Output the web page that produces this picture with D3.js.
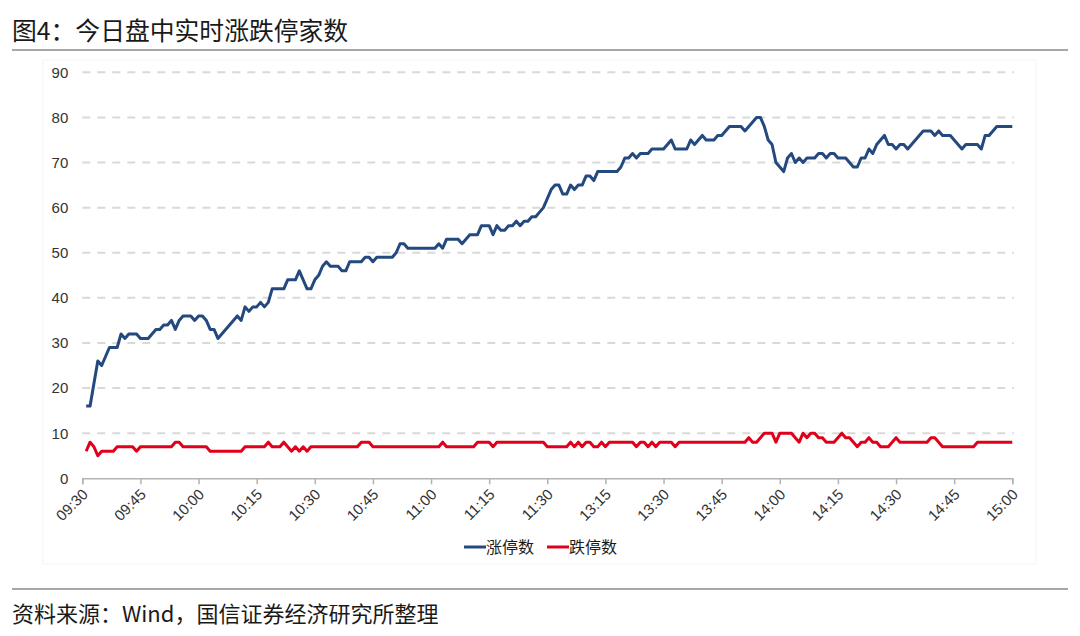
<!DOCTYPE html>
<html>
<head>
<meta charset="utf-8">
<script src="https://cdn.jsdelivr.net/npm/d3@7"></script>
<style>
html,body{margin:0;padding:0;background:#fff;}
svg{display:block;font-family:"Noto Sans CJK SC","Noto Sans",sans-serif;}
</style>
</head>
<body>
<svg id="chart" width="1080" height="636"></svg>
<script>
// ---- data (per-minute values, index 1 = 09:31 ... 120 = 11:30, 121 = 13:01 ... 240 = 15:00) ----
const titleText = "图4：今日盘中实时涨跌停家数";
const sourceText = "资料来源：Wind，国信证券经济研究所整理";
const seriesNames = ["涨停数", "跌停数"];
const tickLabels = ["09:30","09:45","10:00","10:15","10:30","10:45","11:00","11:15","11:30",
                    "13:15","13:30","13:45","14:00","14:15","14:30","14:45","15:00"];
const yTicks = [0,10,20,30,40,50,60,70,80,90];

const limitUp = [
  16,16,21,26,25,27,29,29,29,32,
  31,32,32,32,31,31,31,32,33,33,
  34,34,35,33,35,36,36,36,35,36,
  36,35,33,33,31,32,33,34,35,36,
  35,38,37,38,38,39,38,39,42,42,
  42,42,44,44,44,46,44,42,42,44,
  45,47,48,47,47,47,46,46,48,48,
  48,48,49,49,48,49,49,49,49,49,
  50,52,52,51,51,51,51,51,51,51,
  51,52,51,53,53,53,53,52,53,54,
  54,54,56,56,56,54,56,55,55,56,
  56,57,56,57,57,58,58,59,60,62,
  64,65,65,63,63,65,64,65,65,67,
  67,66,68,68,68,68,68,68,69,71,
  71,72,71,72,72,72,73,73,73,73,
  74,75,73,73,73,73,75,74,75,76,
  75,75,75,76,76,77,78,78,78,78,
  77,78,79,80,80,78,75,74,70,69,
  68,71,72,70,71,70,71,71,71,72,
  72,71,72,72,71,71,71,70,69,69,
  71,71,73,72,74,75,76,74,74,73,
  74,74,73,74,75,76,77,77,77,76,
  77,76,76,76,75,74,73,74,74,74,
  74,73,76,76,77,78,78,78,78,78
];
const limitDown = [
  6,8,7,5,6,6,6,6,7,7,
  7,7,7,6,7,7,7,7,7,7,
  7,7,7,8,8,7,7,7,7,7,
  7,7,6,6,6,6,6,6,6,6,
  6,7,7,7,7,7,7,8,7,7,
  7,8,7,6,7,6,7,6,7,7,
  7,7,7,7,7,7,7,7,7,7,
  7,8,8,8,7,7,7,7,7,7,
  7,7,7,7,7,7,7,7,7,7,
  7,7,8,7,7,7,7,7,7,7,
  7,8,8,8,8,7,8,8,8,8,
  8,8,8,8,8,8,8,8,8,7,
  7,7,7,7,7,8,7,8,7,8,
  8,7,7,8,7,8,8,8,8,8,
  8,8,7,8,8,7,8,7,8,8,
  8,8,7,8,8,8,8,8,8,8,
  8,8,8,8,8,8,8,8,8,8,
  8,9,8,8,9,10,10,10,8,10,
  10,10,10,9,8,10,9,10,10,9,
  9,8,8,8,9,10,9,9,8,7,
  8,8,9,8,8,7,7,7,8,9,
  8,8,8,8,8,8,8,8,9,9,
  8,7,7,7,7,7,7,7,7,7,
  8,8,8,8,8,8,8,8,8,8
];
const colors = ["#24497f", "#e1001b"];

// ---- drawing ----
const svg = d3.select("#chart");
const x = d3.scaleLinear().domain([0, 240]).range([82.3, 1012.3]);
const y = d3.scaleLinear().domain([0, 90]).range([478.3, 72.3]);

// title and rules
svg.append("text").attr("x", 12).attr("y", 40).attr("font-size", 24.8).attr("fill", "#1a1a1a")
  .text(titleText);
svg.append("line").attr("x1", 12).attr("x2", 1068).attr("y1", 50).attr("y2", 50)
  .attr("stroke", "#8a8a8a").attr("stroke-width", 1.6);
svg.append("line").attr("x1", 12).attr("x2", 1068).attr("y1", 589).attr("y2", 589)
  .attr("stroke", "#8a8a8a").attr("stroke-width", 1.6);
svg.append("text").attr("x", 12).attr("y", 622).attr("font-size", 22).attr("fill", "#1a1a1a")
  .text(sourceText);

// faint plot frame
svg.append("rect").attr("x", 43).attr("y", 60).attr("width", 993).attr("height", 504)
  .attr("fill", "none").attr("stroke", "#f4f4f4").attr("stroke-width", 1);

// gridlines
svg.append("g").selectAll("line").data(yTicks.filter(d => d > 0)).join("line")
  .attr("x1", x(0)).attr("x2", 1014).attr("y1", d => y(d)).attr("y2", d => y(d))
  .attr("stroke", "#d9d9d9").attr("stroke-width", 2).attr("stroke-dasharray", "8,7");

// y axis labels
const yAxis = d3.axisLeft(y).tickValues(yTicks).tickSize(0).tickPadding(14);
const gy = svg.append("g").attr("transform", `translate(${x(0)},0)`).call(yAxis);
gy.select(".domain").remove();
gy.selectAll("text").attr("font-size", 15).attr("fill", "#333").attr("font-family", "Liberation Sans, Arial, sans-serif");

// x axis
const tickIdx = tickLabels.map((d, i) => i * 15);
const xAxis = d3.axisBottom(x).tickValues(tickIdx).tickSize(6).tickFormat((d, i) => tickLabels[i]);
const gx = svg.append("g").attr("transform", `translate(0,${y(0)})`).call(xAxis);
gx.select(".domain").attr("stroke", "#b3b3b3").attr("stroke-width", 1.5);
gx.selectAll(".tick line").attr("stroke", "#b3b3b3").attr("stroke-width", 1.5);
gx.selectAll("text").attr("font-size", 15).attr("fill", "#333")
  .attr("font-family", "Liberation Sans, Arial, sans-serif")
  .attr("text-anchor", "end").attr("dy", null)
  .attr("transform", "translate(6,17) rotate(-45)")
  .attr("y", 0).attr("x", 0);

// lines
const series = [limitUp, limitDown];
const line = d3.line().x((d, i) => x(i + 1)).y(d => y(d));
series.forEach((s, k) => {
  svg.append("path").datum(s).attr("d", line).attr("fill", "none")
    .attr("stroke", colors[k]).attr("stroke-width", 3).attr("stroke-linejoin", "round");
});

// legend
const legendPos = [464, 547];
seriesNames.forEach((name, k) => {
  const g = svg.append("g").attr("transform", `translate(${legendPos[k]},547)`);
  g.append("line").attr("x1", 0).attr("x2", 22).attr("y1", 0).attr("y2", 0)
    .attr("stroke", colors[k]).attr("stroke-width", 3);
  g.append("text").attr("x", 22).attr("y", 6).attr("font-size", 16).attr("fill", "#1a1a1a").text(name);
});
</script>
</body>
</html>
